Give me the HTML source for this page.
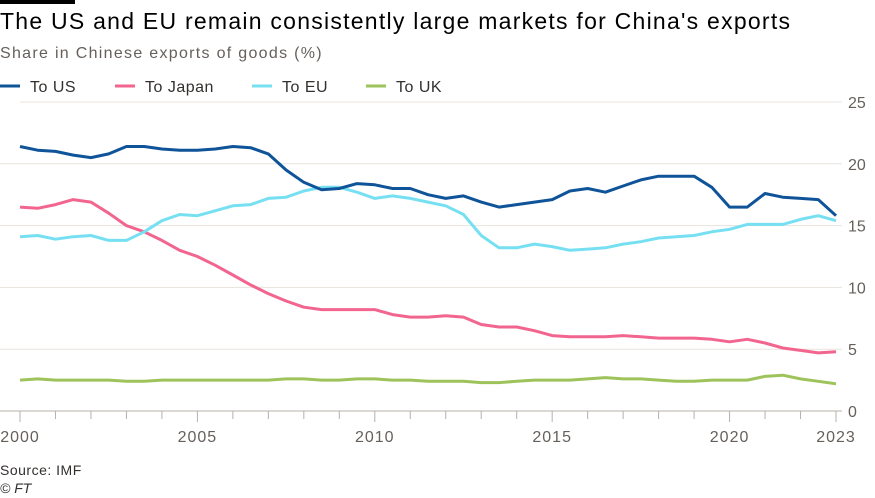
<!DOCTYPE html>
<html><head><meta charset="utf-8"><style>
body{margin:0;background:#fff;font-family:"Liberation Sans",sans-serif;}
#wrap{position:relative;width:875px;height:498px;overflow:hidden;background:#fff;}
</style></head><body>
<div id="wrap">
<div style="position:absolute;left:0;top:0;width:75px;height:4px;background:#000"></div>
<div style="position:absolute;left:0;top:8px;font-size:23px;letter-spacing:1.25px;color:#000;white-space:nowrap">The US and EU remain consistently large markets for China's exports</div>
<div style="position:absolute;left:0;top:45px;font-size:16px;letter-spacing:1.3px;color:#66605c;white-space:nowrap">Share in Chinese exports of goods (%)</div>
<svg id="c" width="875" height="498" style="position:absolute;left:0;top:0"></svg>
<div style="position:absolute;left:0;top:462px;font-size:14px;letter-spacing:0.5px;color:#33302e">Source: IMF</div>
<div style="position:absolute;left:0;top:480px;font-size:14px;color:#33302e;font-style:italic">© FT</div>
</div>
<script>
const years=[2000,2000.5,2001,2001.5,2002,2002.5,2003,2003.5,2004,2004.5,2005,2005.5,2006,2006.5,2007,2007.5,2008,2008.5,2009,2009.5,2010,2010.5,2011,2011.5,2012,2012.5,2013,2013.5,2014,2014.5,2015,2015.5,2016,2016.5,2017,2017.5,2018,2018.5,2019,2019.5,2020,2020.5,2021,2021.5,2022,2022.5,2023];
const usVals=[21.4,21.1,21.0,20.7,20.5,20.8,21.4,21.4,21.2,21.1,21.1,21.2,21.4,21.3,20.8,19.5,18.5,17.9,18.0,18.4,18.3,18.0,18.0,17.5,17.2,17.4,16.9,16.5,16.7,16.9,17.1,17.8,18.0,17.7,18.2,18.7,19.0,19.0,19.0,18.1,16.5,16.5,17.6,17.3,17.2,17.1,15.8];
const japanVals=[16.5,16.4,16.7,17.1,16.9,16.0,15.0,14.5,13.8,13.0,12.5,11.8,11.0,10.2,9.5,8.9,8.4,8.2,8.2,8.2,8.2,7.8,7.6,7.6,7.7,7.6,7.0,6.8,6.8,6.5,6.1,6.0,6.0,6.0,6.1,6.0,5.9,5.9,5.9,5.8,5.6,5.8,5.5,5.1,4.9,4.7,4.8];
const euVals=[14.1,14.2,13.9,14.1,14.2,13.8,13.8,14.5,15.4,15.9,15.8,16.2,16.6,16.7,17.2,17.3,17.8,18.1,18.1,17.7,17.2,17.4,17.2,16.9,16.6,15.9,14.2,13.2,13.2,13.5,13.3,13.0,13.1,13.2,13.5,13.7,14.0,14.1,14.2,14.5,14.7,15.1,15.1,15.1,15.5,15.8,15.4];
const ukVals=[2.5,2.6,2.5,2.5,2.5,2.5,2.4,2.4,2.5,2.5,2.5,2.5,2.5,2.5,2.5,2.6,2.6,2.5,2.5,2.6,2.6,2.5,2.5,2.4,2.4,2.4,2.3,2.3,2.4,2.5,2.5,2.5,2.6,2.7,2.6,2.6,2.5,2.4,2.4,2.5,2.5,2.5,2.8,2.9,2.6,2.4,2.2];
const yTicks=[0,5,10,15,20,25];
const xLabels=[2000,2005,2010,2015,2020,2023];
const seriesNames=["To US","To Japan","To EU","To UK"];
const colors=["#0f5499","#f2658f","#76e0f2","#9dc35a"];
const NS="http://www.w3.org/2000/svg";
const svg=document.getElementById('c');
const X=v=>20+(v-2000)*(816/23);
const Y=v=>411-v*12.36;
function mk(t,a){const e=document.createElementNS(NS,t);for(const k in a)e.setAttribute(k,a[k]);svg.appendChild(e);return e;}
yTicks.forEach(t=>{
  const l=mk('line',{x1:t===25?20:0,x2:842,y1:Y(t),y2:Y(t),stroke:t===0?'#b8b0aa':'#e9e3de','stroke-width':1});
  
  
  const tx=mk('text',{x:848,y:Y(t)+6,'font-size':16,fill:'#66605c'});
  tx.textContent=t;
  
  
});
for(let y=2000;y<=2023;y++){
  const t=mk('line',{x1:X(y),x2:X(y),y1:411,y2:xLabels.includes(y)?422:419,stroke:'#b8b0aa'});
  
  
}
xLabels.forEach(y=>{
  const t=mk('text',{x:X(y),y:442,'font-size':16,fill:'#66605c','text-anchor':'middle','letter-spacing':1});
  t.textContent=y;
  
  
});
const all=[usVals,japanVals,euVals,ukVals];
const keys=['us','japan','eu','uk'];
[3,1,2,0].forEach(i=>{
  const d=all[i].map((v,j)=>(j?'L':'M')+X(years[j]).toFixed(1)+','+Y(v).toFixed(1)).join('');
  const p=mk('path',{d:d,fill:'none',stroke:colors[i],'stroke-width':3,'stroke-linejoin':'round'});
  
  
});
const lx=[0,115,252,366];
seriesNames.forEach((n,i)=>{
  const l=mk('line',{x1:lx[i],x2:lx[i]+20,y1:86,y2:86,stroke:colors[i],'stroke-width':3});
  
  
  const t=mk('text',{x:lx[i]+30,y:92,'font-size':16,fill:'#33302e','letter-spacing':0.5});
  t.textContent=n;
  
  
});
</script>
</body></html>
